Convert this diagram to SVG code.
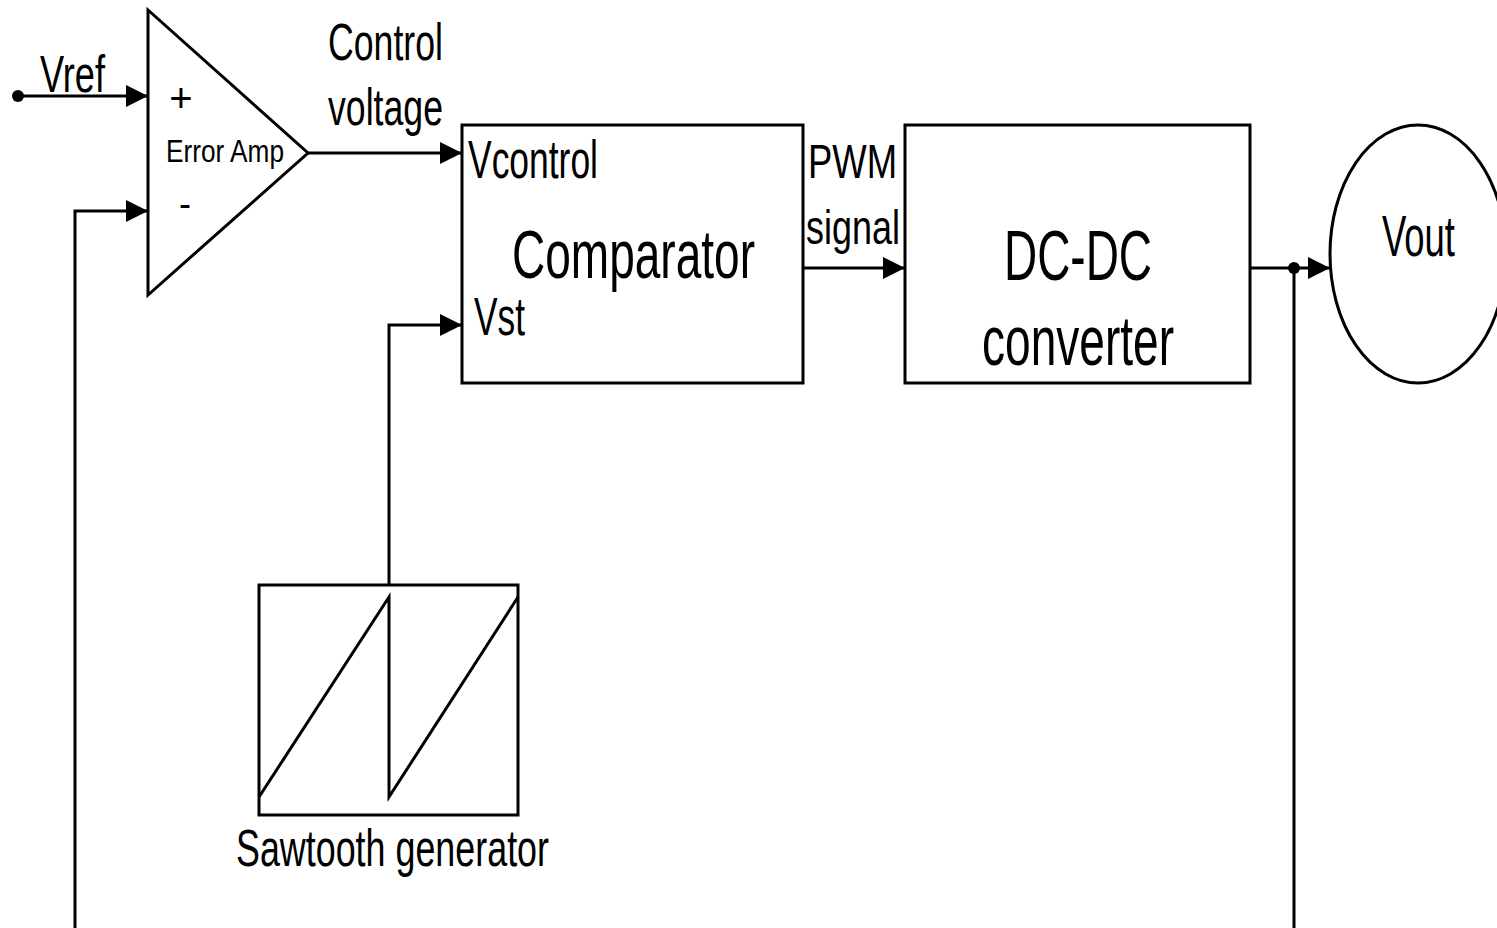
<svg xmlns="http://www.w3.org/2000/svg" width="1497" height="928" viewBox="0 0 1497 928">
<defs>
<style>
.ln{fill:none;stroke:#000;stroke-width:3}
.bx{fill:#fff;stroke:#000;stroke-width:3}
.t{font-family:"Liberation Sans",Arial,sans-serif;fill:#000}
</style>
<marker id="ah" markerUnits="userSpaceOnUse" markerWidth="24" markerHeight="24" refX="22" refY="11" orient="auto" viewBox="0 0 24 24">
<path d="M0,0 L22,11 L0,22 z" fill="#000"/>
</marker>
</defs>
<rect x="0" y="0" width="1497" height="928" fill="#fff"/>
<g id="connectors">
<line class="ln" x1="18" y1="96" x2="148" y2="96" marker-end="url(#ah)"/>
<circle cx="18" cy="96" r="6" fill="#000"/>
<polyline class="ln" points="75,928 75,211 148,211" marker-end="url(#ah)"/>
<line class="ln" x1="308" y1="153" x2="462" y2="153" marker-end="url(#ah)"/>
<polyline class="ln" points="389,585 389,325 462,325" marker-end="url(#ah)"/>
<line class="ln" x1="803" y1="268" x2="905" y2="268" marker-end="url(#ah)"/>
<line class="ln" x1="1250" y1="268" x2="1330" y2="268" marker-end="url(#ah)"/>
<line class="ln" x1="1294" y1="268" x2="1294" y2="928"/>
<circle cx="1294" cy="268" r="6" fill="#000"/>
<text class="t" x="40" y="92" font-size="52" textLength="65" lengthAdjust="spacingAndGlyphs">Vref</text>
<text class="t" x="328" y="60" font-size="52" textLength="115" lengthAdjust="spacingAndGlyphs">Control</text>
<text class="t" x="328" y="125" font-size="52" textLength="115" lengthAdjust="spacingAndGlyphs">voltage</text>
<text class="t" x="808" y="178" font-size="48" textLength="89" lengthAdjust="spacingAndGlyphs">PWM</text>
<text class="t" x="806" y="244" font-size="48" textLength="94" lengthAdjust="spacingAndGlyphs">signal</text>
</g>
<g id="error-amp">
<polygon class="bx" points="148,10 148,295 308,153"/>
<text class="t" x="181" y="112" font-size="40" text-anchor="middle">+</text>
<text class="t" x="166" y="162" font-size="31" textLength="118" lengthAdjust="spacingAndGlyphs">Error Amp</text>
<text class="t" x="185" y="216" font-size="36" text-anchor="middle">-</text>
</g>
<g id="comparator">
<rect class="bx" x="462" y="125" width="341" height="258"/>
<text class="t" x="468" y="178" font-size="54" textLength="130" lengthAdjust="spacingAndGlyphs">Vcontrol</text>
<text class="t" x="512" y="278" font-size="68" textLength="243" lengthAdjust="spacingAndGlyphs">Comparator</text>
<text class="t" x="474" y="335" font-size="54" textLength="51" lengthAdjust="spacingAndGlyphs">Vst</text>
</g>
<g id="dcdc">
<rect class="bx" x="905" y="125" width="345" height="258"/>
<text class="t" x="1004" y="280" font-size="70" textLength="148" lengthAdjust="spacingAndGlyphs">DC-DC</text>
<text class="t" x="982" y="365" font-size="70" textLength="192" lengthAdjust="spacingAndGlyphs">converter</text>
</g>
<g id="vout">
<ellipse class="bx" cx="1418" cy="254" rx="88" ry="129"/>
<text class="t" x="1382" y="256" font-size="57" textLength="73" lengthAdjust="spacingAndGlyphs">Vout</text>
</g>
<g id="sawtooth">
<rect class="bx" x="259" y="585" width="259" height="230"/>
<polyline class="ln" points="259,797 389,597 389,797 518,597"/>
<text class="t" x="236" y="866" font-size="52" textLength="313" lengthAdjust="spacingAndGlyphs">Sawtooth generator</text>
</g>
</svg>
